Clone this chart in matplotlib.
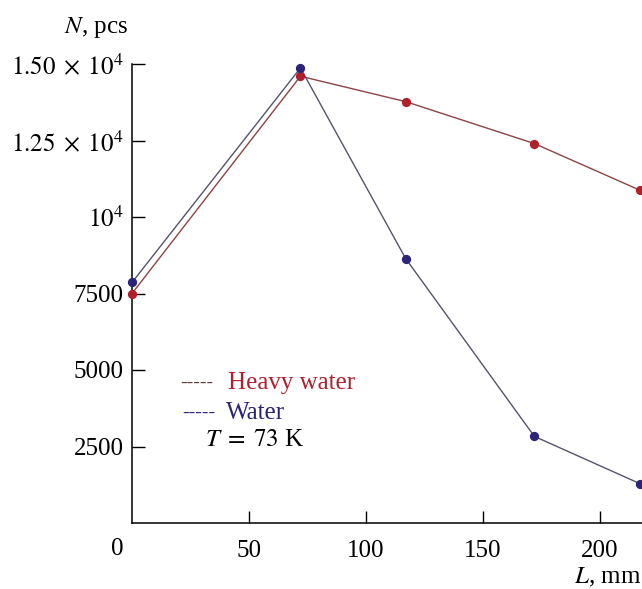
import matplotlib
matplotlib.use('Agg')
import matplotlib.pyplot as plt
import numpy as np

plt.rcParams['font.family'] = ['Liberation Serif', 'DejaVu Serif']
plt.rcParams['mathtext.fontset'] = 'stix'

# distance along the sample, mm
L = [0, 72, 117, 172, 217]
# counts, pcs
n_heavy = [7500, 14600, 13770, 12400, 10880]
n_water = [7860, 14870, 8640, 2830, 1290]

yticks = [2500, 5000, 7500, 10000, 12500, 15000]
ylabels = ['2500', '5000', '7500', '$10^4$', r'$1.25\;\times\;10^4$', r'$1.50\;\times\;10^4$']
xticks = [50, 100, 150, 200]

c_red = '#b0202c'
c_blue = '#2c2478'
fs = 18

fig = plt.figure(figsize=(6.42, 5.89), dpi=100)
ax = fig.add_axes([132 / 642, 1 - 523 / 589, 1 - 132 / 642, 459 / 589])

ax.plot(L, n_heavy, color='#8c4444', lw=1.0, clip_on=False, zorder=2)
ax.plot(L, n_water, color='#55556a', lw=1.0, clip_on=False, zorder=2)
ax.scatter(L, n_heavy, s=32, color=c_red, clip_on=False, zorder=3)
ax.scatter(L, n_water, s=32, color=c_blue, clip_on=False, zorder=3)

ax.set_xlim(0, 218)
ax.set_ylim(0, 15000)
ax.set_xticks(xticks)
ax.set_xticklabels([str(v) for v in xticks], fontsize=fs)
ax.set_yticks(yticks)
ax.set_yticklabels(ylabels, fontsize=fs)
ax.tick_params(direction='in', length=9, width=1, pad=12)
ax.tick_params(axis='y', pad=6)
for s in ['top', 'right']:
    ax.spines[s].set_visible(False)
for s in ['left', 'bottom']:
    ax.spines[s].set_linewidth(1.1)

ax.text(117 / 642, 1 - 549 / 589, '0', transform=fig.transFigure, fontsize=fs,
        ha='center', va='center')
fig.text(0.998, 1 - 577 / 589, '$L$, mm', fontsize=fs, ha='right', va='center')
fig.text(128 / 642, 1 - 27 / 589, '$N$, pcs', fontsize=fs, ha='right', va='center')

fig.text(180 / 642, 1 - 383 / 589, '-----', fontsize=14, color='#5a3a3a', va='center')
fig.text(228 / 642, 1 - 383 / 589, 'Heavy water', fontsize=fs, color=c_red, va='center')
fig.text(182 / 642, 1 - 413 / 589, '-----', fontsize=14, color=c_blue, va='center')
fig.text(226 / 642, 1 - 413 / 589, 'Water', fontsize=fs, color=c_blue, va='center')
fig.text(205 / 642, 1 - 440 / 589, r'$T\;=\;73$ K', fontsize=fs, color='black', va='center')

fig.savefig('out.png', dpi=100)
